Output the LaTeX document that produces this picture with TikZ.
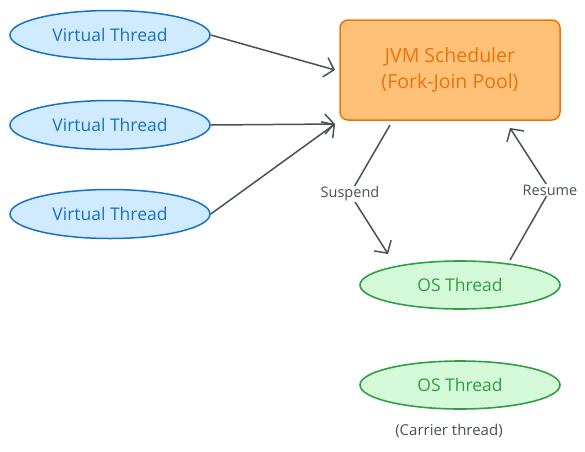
\documentclass[tikz,border=0pt]{standalone}
\usepackage{fontspec}
\setmainfont{Open Sans}
\usetikzlibrary{shapes.geometric,arrows.meta}
\definecolor{bluefill}{HTML}{D0EBFF}
\definecolor{blueline}{HTML}{1971C2}
\definecolor{greenfill}{HTML}{D3F9D8}
\definecolor{greenline}{HTML}{2F9E44}
\definecolor{orangefill}{HTML}{FFC078}
\definecolor{orangeline}{HTML}{E8740C}
\definecolor{orangetext}{HTML}{E8740C}
\definecolor{arrowgray}{HTML}{495057}
\tikzset{
  vthread/.style={ellipse, draw=blueline, fill=bluefill, line width=1.5pt,
    minimum width=200pt, minimum height=49pt, inner sep=0pt,
    text=blueline, font=\fontsize{17.5}{20}\selectfont},
  osthread/.style={ellipse, draw=greenline, fill=greenfill, line width=1.6pt,
    minimum width=200pt, minimum height=48pt, inner sep=0pt,
    text=greenline, font=\fontsize{17.5}{20}\selectfont},
  scheduler/.style={rectangle, rounded corners=8pt, draw=orangeline, fill=orangefill,
    line width=1.5pt, minimum width=220pt, minimum height=100pt, inner sep=0pt,
    text=orangetext, align=center, font=\fontsize{19.5}{26.5}\selectfont},
  conn/.style={draw=arrowgray, line width=1.5pt,
    -{Straight Barb[length=9pt,width=20pt,line width=1.5pt]}},
  edgelabel/.style={fill=white, inner sep=1pt, text=arrowgray,
    font=\fontsize{14.5}{17}\selectfont},
  note/.style={text=arrowgray, font=\fontsize{15}{17}\selectfont, inner sep=0pt}
}
\begin{document}
\begin{tikzpicture}[x=1pt,y=-1pt]
\useasboundingbox (0,0) rectangle (585,451);
\node[vthread] (vt1) at (110,35) {Virtual Thread};
\node[vthread] (vt2) at (110,125) {Virtual Thread};
\node[vthread] (vt3) at (110,214) {Virtual Thread};
\node[scheduler] (jvm) at (450,70) {JVM Scheduler\\(Fork-Join Pool)};
\node[osthread] (os1) at (460,285) {OS Thread};
\node[osthread] (os2) at (460,385) {OS Thread};
\node[note] (carrier) at (449,431) {(Carrier thread)};

\coordinate (in1) at (335,70);
\coordinate (in2) at (335,124);
\coordinate (suspfrom) at (390,125);
\coordinate (suspto) at (388,254);
\coordinate (resfrom) at (510,260);
\coordinate (resto) at (510,128);

\draw[conn] (vt1.east) -- (in1);
\draw[conn] (vt2.east) -- (in2);
\draw[conn] (vt3.east) -- (in2);

\draw[conn] (suspfrom) -- (350,194) node[edgelabel] (susp) {Suspend} -- (suspto);
\draw[conn] (resfrom) -- (550,190) node[edgelabel] (res) {Resume} -- (resto);
\end{tikzpicture}
\end{document}
